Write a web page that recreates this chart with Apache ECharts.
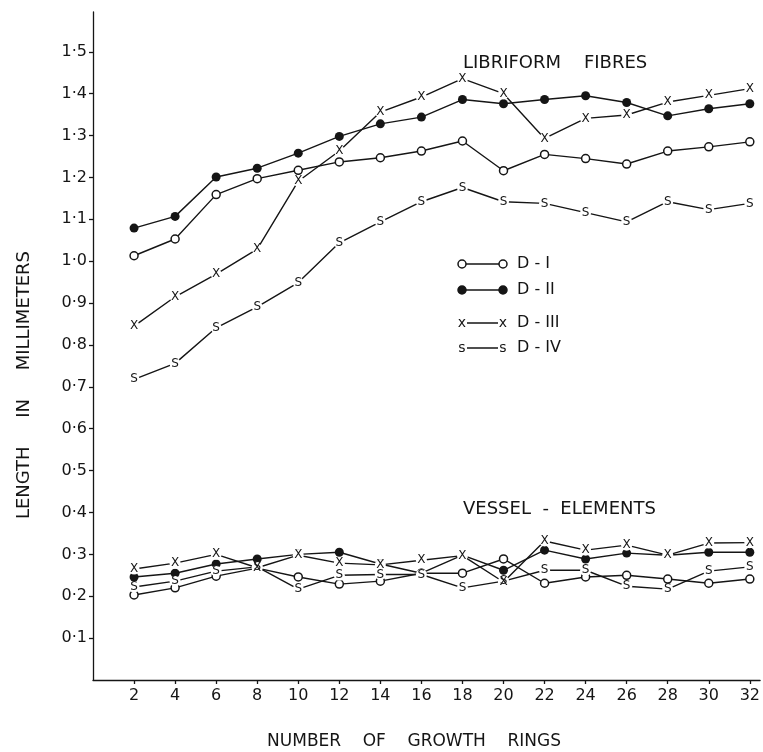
<!DOCTYPE html>
<html>
<head>
<meta charset="utf-8">
<script src="https://cdn.jsdelivr.net/npm/echarts@6/dist/echarts.min.js"></script>
<style>
html, body { margin: 0; padding: 0; background: #fff; }
#chart { width: 763px; height: 752px; }
</style>
</head>
<body>
<div id="chart"></div>
<script>
// growth rings on the x axis
var rings = [2, 4, 6, 8, 10, 12, 14, 16, 18, 20, 22, 24, 26, 28, 30, 32];
var yTicks = [0.1, 0.2, 0.3, 0.4, 0.5, 0.6, 0.7, 0.8, 0.9, 1.0, 1.1, 1.2, 1.3, 1.4, 1.5];
var seriesNames = ['D - I', 'D - II', 'D - III', 'D - IV'];
var markerKinds = ['open', 'filled', 'x', 's'];

// libriform fibres (mm)
var fibreD1 = [1.013, 1.053, 1.159, 1.197, 1.217, 1.237, 1.247, 1.263, 1.287, 1.216, 1.255, 1.245, 1.232, 1.263, 1.273, 1.285];
var fibreD2 = [1.079, 1.107, 1.201, 1.222, 1.258, 1.298, 1.328, 1.344, 1.386, 1.376, 1.386, 1.395, 1.379, 1.347, 1.364, 1.376];
var fibreD3 = [0.845, 0.915, 0.969, 1.029, 1.191, 1.263, 1.356, 1.392, 1.436, 1.400, 1.293, 1.341, 1.349, 1.380, 1.396, 1.412];
var fibreD4 = [0.718, 0.756, 0.841, 0.891, 0.949, 1.044, 1.094, 1.142, 1.176, 1.142, 1.138, 1.116, 1.094, 1.142, 1.123, 1.138];

// vessel elements (mm)
var vesselD1 = [0.203, 0.220, 0.248, 0.267, 0.246, 0.229, 0.236, 0.255, 0.255, 0.289, 0.231, 0.246, 0.250, 0.241, 0.231, 0.241];
var vesselD2 = [0.246, 0.255, 0.277, 0.289, 0.300, 0.305, 0.277, 0.255, 0.298, 0.262, 0.310, 0.289, 0.303, 0.298, 0.305, 0.305];
var vesselD3 = [0.265, 0.279, 0.300, 0.268, 0.298, 0.279, 0.275, 0.286, 0.297, 0.234, 0.332, 0.310, 0.322, 0.298, 0.327, 0.328];
var vesselD4 = [0.222, 0.236, 0.260, 0.270, 0.217, 0.250, 0.252, 0.252, 0.220, 0.236, 0.262, 0.262, 0.224, 0.217, 0.260, 0.270];

var ink = '#151515';
var font = 'DejaVu Sans';

function markerStyle(kind) {
  if (kind === 'open') {
    return { symbol: 'circle', symbolSize: 8, itemStyle: { color: '#fff', borderColor: ink, borderWidth: 1.5 } };
  }
  if (kind === 'filled') {
    return { symbol: 'circle', symbolSize: 9, itemStyle: { color: ink, borderWidth: 0 } };
  }
  return {
    symbol: 'circle',
    symbolSize: 11,
    itemStyle: { color: '#fff', borderWidth: 0 },
    label: {
      show: true,
      position: 'inside',
      formatter: kind.toUpperCase(),
      fontSize: 12,
      fontFamily: font,
      color: ink
    }
  };
}

function makeSeries(name, values, kind) {
  var s = {
    type: 'line',
    name: name,
    data: rings.map(function(r, i) { return [r, values[i]]; }),
    lineStyle: { color: ink, width: 1.4 },
    showAllSymbol: true,
    emphasis: { disabled: true },
    z: 3
  };
  var m = markerStyle(kind);
  for (var k in m) s[k] = m[k];
  return s;
}

var fibres = [fibreD1, fibreD2, fibreD3, fibreD4];
var vessels = [vesselD1, vesselD2, vesselD3, vesselD4];
var series = [];
fibres.forEach(function(v, i) { series.push(makeSeries(seriesNames[i] + ' fibres', v, markerKinds[i])); });
vessels.forEach(function(v, i) { series.push(makeSeries(seriesNames[i] + ' vessels', v, markerKinds[i])); });

// hand drawn style legend: marker -- line -- marker, then label
var legendTop = [264, 290, 323, 348];
var legend = [];
seriesNames.forEach(function(name, i) {
  var y = legendTop[i];
  var kind = markerKinds[i];
  var x1 = 462, x2 = 503;
  legend.push({ type: 'line', shape: { x1: x1, y1: y, x2: x2, y2: y }, style: { stroke: ink, lineWidth: 1.4 } });
  [x1, x2].forEach(function(x) {
    if (kind === 'open' || kind === 'filled') {
      legend.push({ type: 'circle', shape: { cx: x, cy: y, r: 4 },
        style: { fill: kind === 'open' ? '#fff' : ink, stroke: ink, lineWidth: 1.5 } });
    } else {
      legend.push({ type: 'rect', shape: { x: x - 5, y: y - 6, width: 10, height: 12 }, style: { fill: '#fff' } });
      legend.push({ type: 'text', x: x, y: y, style: { text: kind, fill: ink, font: '14px ' + font, align: 'center', verticalAlign: 'middle' } });
    }
  });
  legend.push({ type: 'text', x: 517, y: y, style: { text: name, fill: ink, font: '16px ' + font, align: 'left', verticalAlign: 'middle' } });
});

var texts = [
  { type: 'text', x: 463, y: 63, style: { text: 'LIBRIFORM    FIBRES', fill: ink, font: '18px ' + font, verticalAlign: 'middle' } },
  { type: 'text', x: 463, y: 509, style: { text: 'VESSEL  -  ELEMENTS', fill: ink, font: '18px ' + font, verticalAlign: 'middle' } },
  { type: 'text', x: 414, y: 742, style: { text: 'NUMBER    OF    GROWTH    RINGS', fill: ink, font: '17px ' + font, align: 'center', verticalAlign: 'middle' } },
  { type: 'text', x: 24, y: 385, rotation: Math.PI / 2, style: { text: 'LENGTH     IN     MILLIMETERS', fill: ink, font: '18px ' + font, align: 'center', verticalAlign: 'middle' } }
];

var chart = echarts.init(document.getElementById('chart'));
chart.setOption({
  animation: false,
  backgroundColor: '#fff',
  grid: { left: 93, right: 0, top: 12, bottom: 72, containLabel: false },
  xAxis: {
    type: 'value',
    min: 0,
    max: 32.5,
    splitLine: { show: false },
    axisLine: { lineStyle: { color: ink, width: 1.3 } },
    axisTick: { customValues: rings, length: 4, lineStyle: { color: ink, width: 1.3 } },
    axisLabel: { customValues: rings, color: ink, fontSize: 16, fontFamily: font, margin: 8 }
  },
  yAxis: {
    type: 'value',
    min: 0,
    max: 1.595,
    splitLine: { show: false },
    axisLine: { show: true, lineStyle: { color: ink, width: 1.3 } },
    axisTick: { show: true, customValues: yTicks, length: 4, lineStyle: { color: ink, width: 1.3 } },
    axisLabel: {
      customValues: yTicks,
      color: ink,
      fontSize: 16,
      fontFamily: font,
      margin: 6,
      formatter: function(v) { return v.toFixed(1).replace('.', '·'); }
    }
  },
  graphic: texts.concat(legend),
  series: series
});
</script>
</body>
</html>
